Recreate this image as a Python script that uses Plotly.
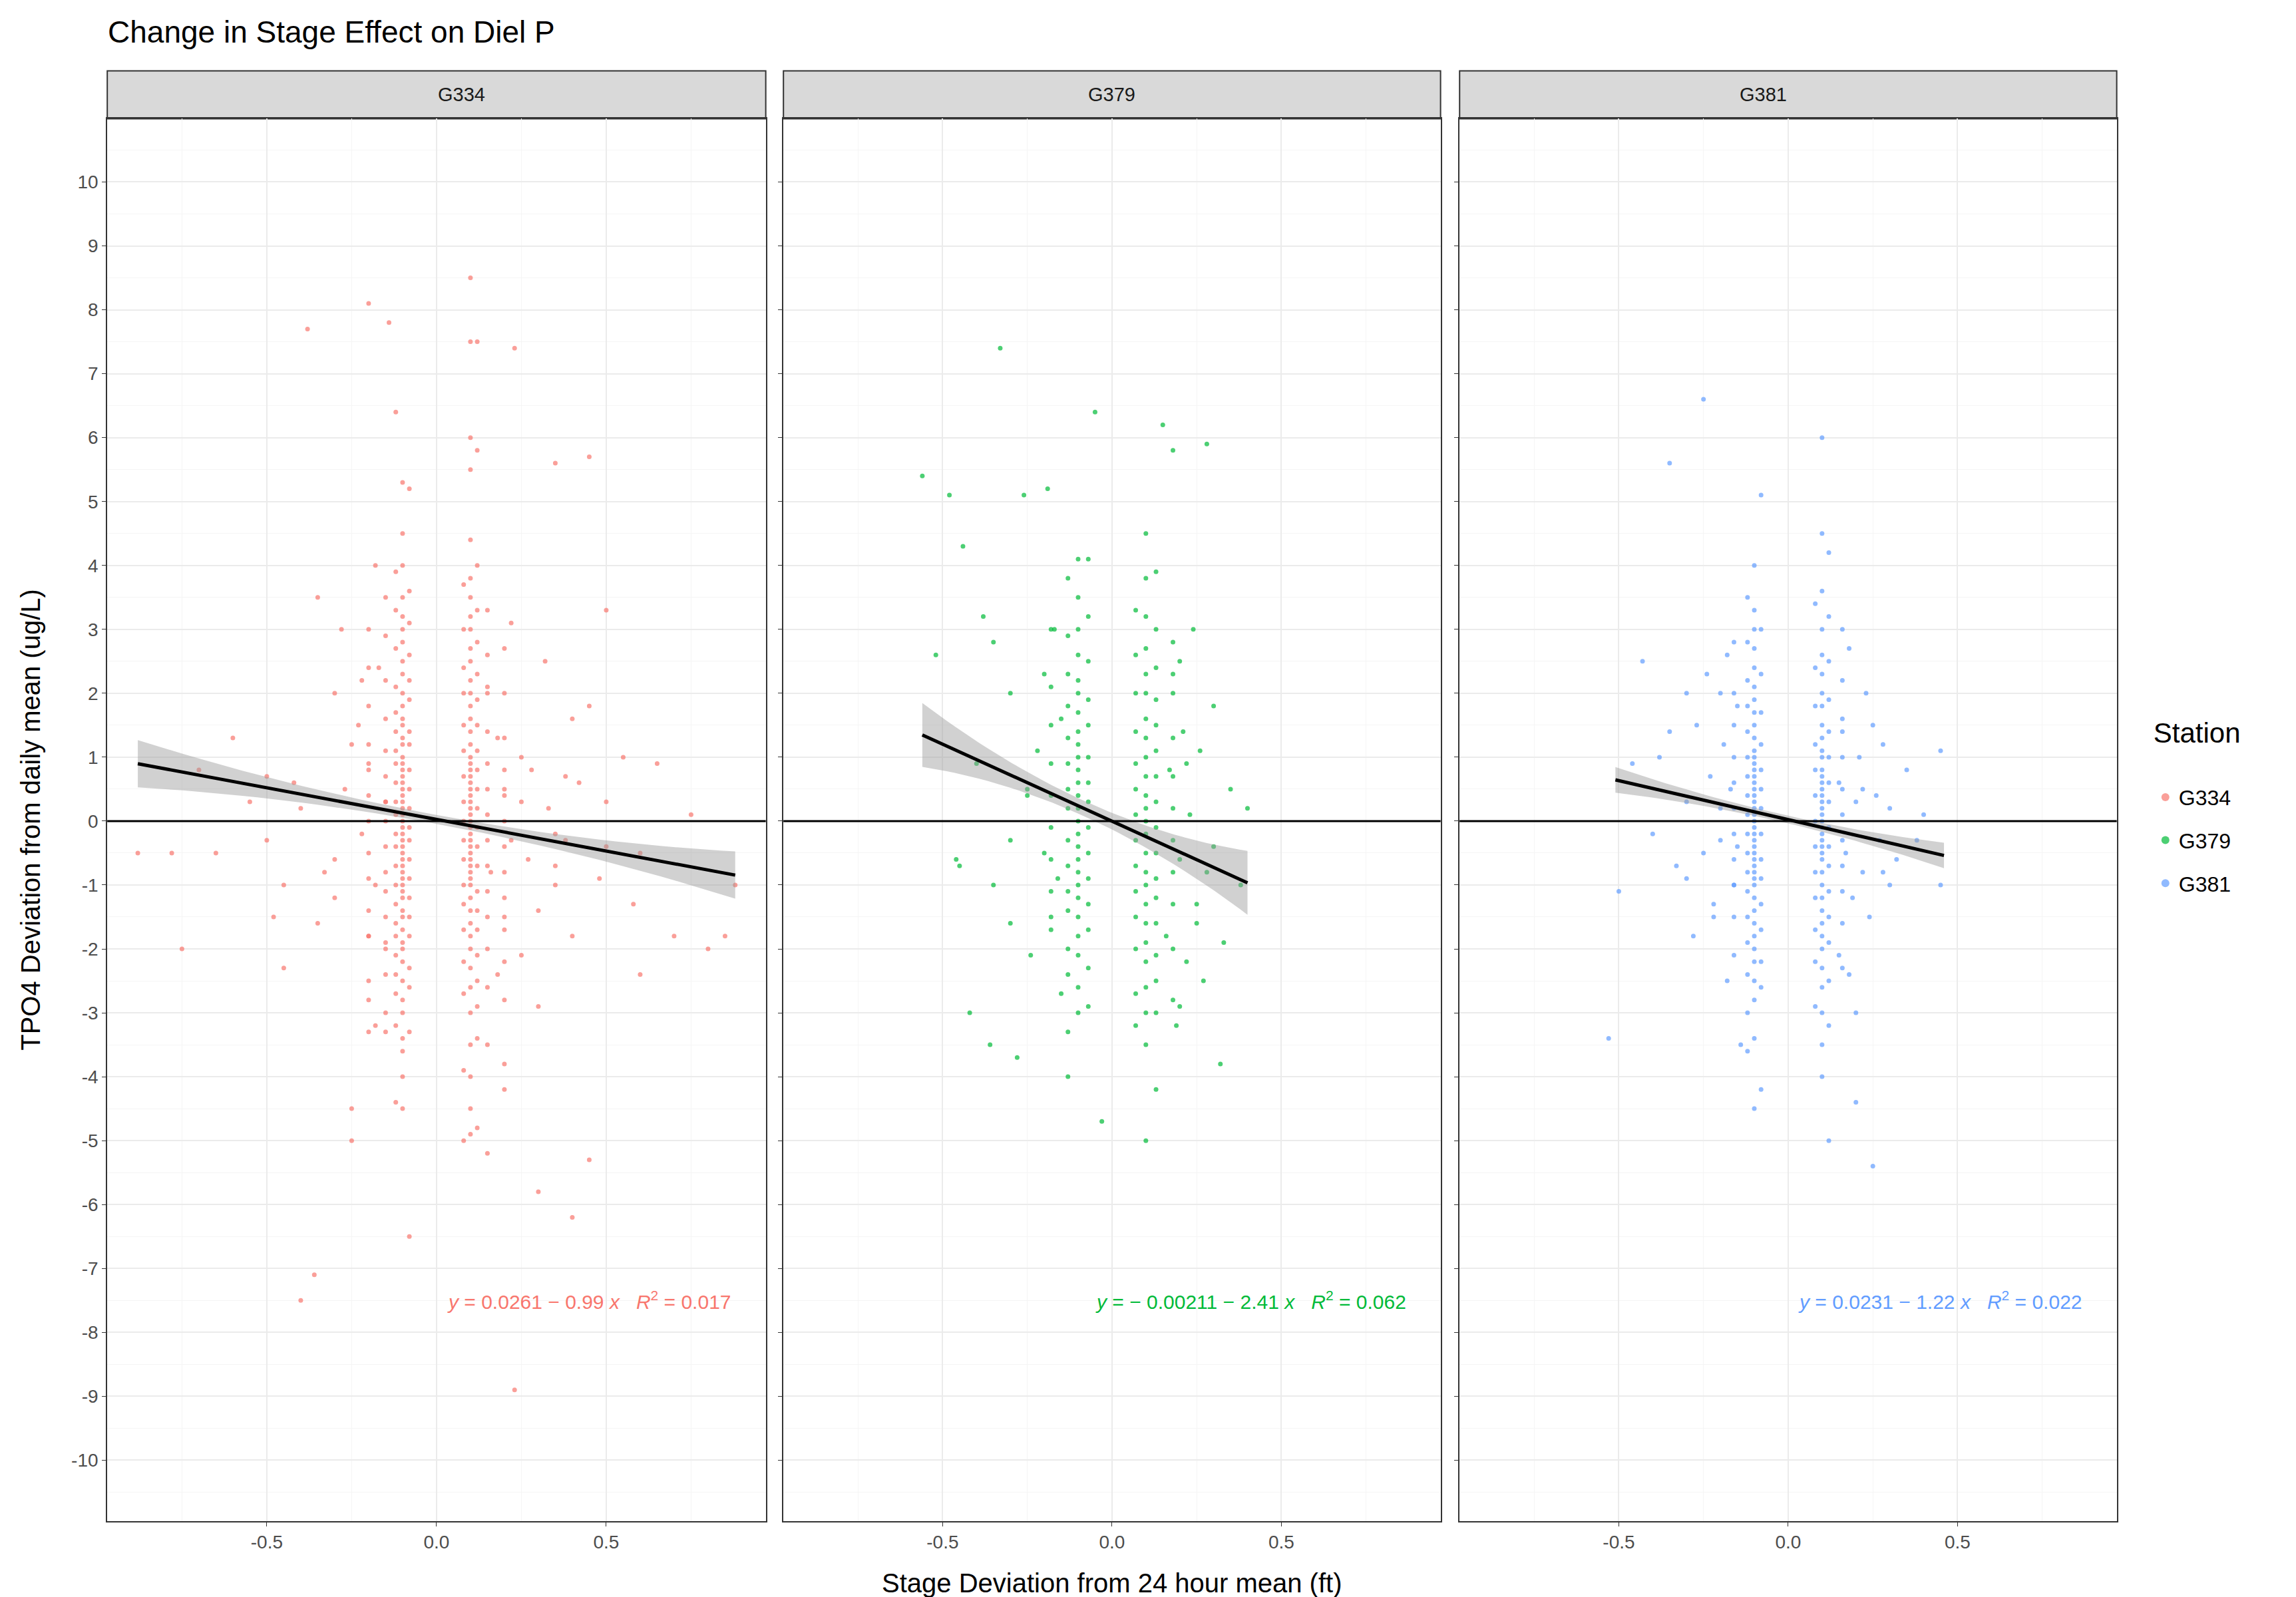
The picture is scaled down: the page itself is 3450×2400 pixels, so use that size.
import plotly.graph_objects as go

stations = ["G334", "G379", "G381"]
colors = {"G334": "#F8766D", "G379": "#00BA38", "G381": "#619CFF"}

cols = {
"G334": [
 (-0.10, [5.3,4.5,4.0,3.5,3.2,3.0,2.8,2.5,2.3,2.0,1.8,1.6,1.5,1.3,1.2,1.0,0.9,0.8,0.7,0.6,0.5,0.4,0.3,0.2,0.1,0,-0.1,-0.2,-0.3,-0.4,-0.5,-0.6,-0.7,-0.8,-0.9,-1.0,-1.1,-1.2,-1.4,-1.5,-1.7,-1.9,-2.0,-2.2,-2.5,-2.8,-3.0,-3.4,-3.6,-4.0,-4.5]),
 (-0.12, [6.4,3.9,3.3,2.7,2.1,1.7,1.4,1.1,0.9,0.6,0.3,0.1,-0.2,-0.4,-0.7,-1.0,-1.3,-1.6,-1.8,-2.1,-2.4,-2.7,-3.2,-4.4]),
 (-0.08, [5.2,3.6,3.1,2.6,2.2,1.9,1.4,1.2,0.8,0.5,0.2,-0.1,-0.3,-0.6,-0.9,-1.2,-1.5,-1.8,-2.3,-2.6,-3.3,-6.5]),
 (-0.15, [3.5,2.9,2.2,1.6,1.1,0.7,0.3,0,-0.4,-0.8,-1.1,-1.5,-1.9,-2.4,-3.0]),
 (-0.20, [3.0,2.4,1.8,1.2,0.8,0.4,0,-0.5,-0.9,-1.4,-1.8,-2.5,-3.3]),
 (0.10, [8.5,7.5,6.0,5.5,4.4,3.8,3.5,3.2,3.0,2.7,2.5,2.2,2.0,1.8,1.6,1.4,1.2,1.0,0.9,0.8,0.7,0.6,0.5,0.4,0.3,0.2,0.1,0,-0.1,-0.2,-0.3,-0.4,-0.5,-0.6,-0.7,-0.8,-0.9,-1.0,-1.2,-1.4,-1.6,-1.8,-2.0,-2.3,-2.6,-3.0,-3.5,-4.0,-4.5,-4.9]),
 (0.12, [7.5,5.8,4.0,3.3,2.8,2.3,1.9,1.5,1.1,0.8,0.5,0.2,-0.1,-0.4,-0.7,-1.1,-1.4,-1.7,-2.1,-2.5,-2.9,-3.4,-4.8]),
 (0.08, [3.7,3.0,2.4,2.0,1.5,1.1,0.7,0.3,0,-0.3,-0.6,-1.0,-1.3,-1.7,-2.2,-2.7,-3.9,-5.0]),
 (0.15, [3.3,2.6,2.0,1.4,0.9,0.5,0.1,-0.3,-0.7,-1.1,-1.5,-2.0,-2.6,-3.5]),
 (0.20, [2.7,2.0,1.3,0.8,0.4,0,-0.4,-0.8,-1.2,-1.7,-2.2,-2.8]),
],
"G379": [
 (-0.10, [4.1,3.5,3.0,2.6,2.2,2.0,1.7,1.4,1.2,1.0,0.8,0.6,0.4,0.2,0,-0.2,-0.4,-0.6,-0.8,-1.0,-1.2,-1.5,-1.8,-2.1,-2.6,-3.0]),
 (-0.13, [3.8,2.9,2.3,1.8,1.3,0.9,0.5,0.2,-0.3,-0.7,-1.1,-1.4,-2.0,-2.4,-3.3,-4.0]),
 (-0.07, [4.1,3.2,2.5,1.9,1.5,1.0,0.6,0.3,-0.1,-0.5,-0.9,-1.3,-1.7,-2.3,-2.9]),
 (-0.18, [3.0,2.1,1.5,0.9,0.4,-0.1,-0.6,-1.1,-1.7]),
 (0.10, [4.5,3.8,3.2,2.7,2.3,2.0,1.6,1.3,1.0,0.7,0.4,0.2,0,-0.2,-0.5,-0.8,-1.0,-1.3,-1.6,-1.9,-2.2,-2.6,-3.0,-3.5,-5.0]),
 (0.13, [3.9,3.0,2.4,1.9,1.5,1.1,0.7,0.3,-0.1,-0.5,-0.9,-1.2,-1.6,-2.1,-2.5,-3.0,-4.2]),
 (0.07, [3.3,2.6,2.0,1.4,0.9,0.5,0.1,-0.3,-0.7,-1.1,-1.5,-2.0,-2.7,-3.2]),
 (0.18, [2.8,2.0,1.3,0.7,0.2,-0.3,-0.8,-1.3,-2.0,-2.8]),
],
"G381": [
 (-0.10, [4.0,3.3,3.0,2.7,2.4,2.1,1.9,1.7,1.5,1.3,1.1,1.0,0.9,0.8,0.7,0.6,0.5,0.4,0.3,0.2,0.1,0,-0.1,-0.2,-0.3,-0.4,-0.5,-0.6,-0.7,-0.8,-0.9,-1.0,-1.2,-1.4,-1.6,-1.8,-2.0,-2.2,-2.5,-2.8,-3.4,-4.5]),
 (-0.12, [3.5,2.8,2.2,1.8,1.4,1.0,0.7,0.4,0.1,-0.2,-0.5,-0.8,-1.1,-1.5,-1.9,-2.4,-3.0,-3.6]),
 (-0.08, [5.1,3.0,2.3,1.7,1.2,0.8,0.5,0.2,-0.2,-0.6,-0.9,-1.3,-1.7,-2.2,-2.6,-4.2]),
 (-0.16, [2.8,2.0,1.5,1.0,0.6,0.2,-0.2,-0.6,-1.0,-1.5,-2.1]),
 (0.10, [6.0,4.5,3.6,3.0,2.6,2.3,2.0,1.8,1.5,1.3,1.1,1.0,0.8,0.7,0.6,0.5,0.4,0.3,0.2,0.1,0,-0.1,-0.2,-0.3,-0.4,-0.5,-0.6,-0.8,-1.0,-1.2,-1.4,-1.6,-1.8,-2.0,-2.3,-2.6,-3.0,-3.5,-4.0]),
 (0.12, [4.2,3.2,2.5,1.9,1.4,1.0,0.6,0.3,-0.1,-0.4,-0.7,-1.1,-1.5,-1.9,-2.5,-3.2,-5.0]),
 (0.08, [3.4,2.4,1.8,1.2,0.8,0.4,0,-0.4,-0.8,-1.2,-1.7,-2.2,-2.9]),
 (0.16, [3.0,2.2,1.6,1.0,0.5,0.1,-0.3,-0.7,-1.1,-1.6,-2.3]),
],
}

scat_x = {
"G334": [-0.88,-0.78,-0.75,-0.7,-0.65,-0.6,-0.55,-0.5,-0.48,-0.45,-0.42,-0.4,-0.38,-0.36,-0.35,-0.33,-0.3,-0.3,-0.28,-0.27,-0.25,-0.25,-0.23,-0.22,-0.2,-0.2,-0.2,-0.18,-0.18,-0.17,-0.15,-0.15,-0.15,-0.14,-0.3,-0.25,-0.35,-0.4,-0.45,-0.5,-0.2,-0.22,-0.18,
          0.15,0.15,0.16,0.18,0.18,0.2,0.2,0.2,0.22,0.22,0.23,0.25,0.25,0.27,0.28,0.3,0.3,0.32,0.33,0.35,0.35,0.38,0.4,0.4,0.42,0.45,0.45,0.48,0.5,0.5,0.55,0.58,0.6,0.65,0.7,0.75,0.8,0.85,0.88,0.25,0.3,0.35,0.2,0.4,0.23,0.38,0.45,0.35,0.6,0.5],
"G379": [-0.56,-0.52,-0.48,-0.46,-0.44,-0.42,-0.4,-0.38,-0.36,-0.35,-0.33,-0.3,-0.3,-0.28,-0.26,-0.25,-0.24,-0.22,-0.2,-0.2,-0.19,-0.18,-0.17,-0.16,-0.15,-0.15,-0.3,-0.35,-0.45,-0.25,-0.05,-0.03,
          0.15,0.16,0.17,0.18,0.19,0.2,0.2,0.21,0.22,0.23,0.24,0.25,0.26,0.27,0.28,0.3,0.3,0.32,0.35,0.38,0.4,0.2,0.25,0.18,0.22,0.28,0.33],
"G381": [-0.53,-0.5,-0.46,-0.43,-0.4,-0.38,-0.35,-0.33,-0.3,-0.3,-0.28,-0.27,-0.25,-0.24,-0.23,-0.22,-0.2,-0.2,-0.19,-0.18,-0.17,-0.16,-0.15,-0.15,-0.14,-0.3,-0.25,-0.2,-0.35,-0.22,-0.18,
          0.15,0.15,0.16,0.17,0.18,0.19,0.2,0.2,0.21,0.22,0.23,0.24,0.25,0.26,0.27,0.28,0.3,0.3,0.32,0.35,0.38,0.4,0.45,0.45,0.2,0.25,0.18,0.22,0.28],
}
scat_y = {
"G334": [-0.5,-0.5,-2.0,0.8,-0.5,1.3,0.3,-0.3,-1.5,-2.3,0.6,-7.5,7.7,-7.1,3.5,-0.8,2.0,-1.2,3.0,0.5,-4.5,-5.0,1.5,-0.2,-2.8,0.9,8.1,-1.0,4.0,2.4,-2.0,0.3,-3.3,7.8,-0.6,1.2,-1.6,0.2,-1.0,0.7,-1.8,2.2,-3.2,
          -5.2,2.1,-0.8,1.3,-2.4,-4.2,0.5,-1.5,3.1,-0.3,-8.9,-2.1,1.0,-0.6,0.8,-5.8,-1.4,2.5,0.2,-1.0,5.6,-0.3,-6.2,-1.8,0.6,-5.3,5.7,-0.9,3.3,-0.4,1.0,-1.3,-0.5,0.9,-1.8,0.1,-2.0,-1.8,-1.0,0.3,-2.9,-0.2,-3.8,1.6,7.4,0.7,1.8,-0.7,-2.4,0.3],
"G379": [5.4,2.6,5.1,-0.6,4.3,-3.0,0.9,3.2,-3.5,-1.0,7.4,2.0,-0.3,-3.7,5.1,0.5,-2.1,1.1,-0.5,2.3,5.2,-1.5,3.0,-0.9,1.6,-2.7,-1.6,2.8,-0.7,0.4,6.4,-4.7,
          6.2,-1.8,0.8,5.8,-3.2,2.5,-0.6,1.4,-2.2,0.1,3.0,-1.3,1.1,-2.5,5.9,-0.4,1.8,-3.8,0.5,-1.0,0.2,-2.9,-1.6,2.3,0.9,-0.8,-1.9],
"G381": [-3.4,-1.1,0.9,2.5,-0.2,1.0,5.6,-0.7,2.0,0.3,-1.8,1.5,-0.5,2.3,0.7,-1.3,2.0,-0.3,1.2,-2.5,0.5,-1.0,1.8,-0.4,-3.5,-0.9,6.6,0.2,1.4,-1.5,2.6,
          -2.1,0.6,1.4,-0.5,2.7,-1.2,0.3,-3.0,1.0,-0.8,2.0,-1.5,-5.4,0.4,-0.3,1.2,-1.0,0.2,-0.6,0.8,-0.3,0.1,1.1,-1.0,-4.4,1.5,-2.4,0.5,-0.8],
}

fits = {
"G334": (0.0261, -0.99, -0.88, 0.88, 0.37, 0.07),
"G379": (-0.00211, -2.41, -0.56, 0.40, 0.50, 0.12),
"G381": (0.0231, -1.22, -0.51, 0.46, 0.20, 0.06),
}
labels = {
"G334": "<i>y</i> = 0.0261 − 0.99 <i>x</i>   <i>R</i><sup>2</sup> = 0.017",
"G379": "<i>y</i> = − 0.00211 − 2.41 <i>x</i>   <i>R</i><sup>2</sup> = 0.062",
"G381": "<i>y</i> = 0.0231 − 1.22 <i>x</i>   <i>R</i><sup>2</sup> = 0.022",
}

xticks = [-0.5, 0.0, 0.5]
xticklabels = ["-0.5", "0.0", "0.5"]
yticks = list(range(-10, 11))
yticklabels = [str(v) for v in yticks]

domains = [(0.0444, 0.3312), (0.3389, 0.6251), (0.6334, 0.9196)]
fig = go.Figure()
F = "Liberation Sans, Arial, sans-serif"

for i, s in enumerate(stations):
    ax = "" if i == 0 else str(i + 1)
    xs, ys = [], []
    for cx, cy in cols[s]:
        xs += [cx] * len(cy); ys += cy
    xs += scat_x[s]; ys += scat_y[s]
    fig.add_trace(go.Scatter(x=xs, y=ys, mode="markers", name=s,
        marker=dict(color=colors[s], size=7, opacity=0.7),
        xaxis="x" + ax, yaxis="y" + ax, legendgroup=s))
    b, m, x0, x1, wend, wmid = fits[s]
    n = 40
    xx = [x0 + (x1 - x0) * k / n for k in range(n + 1)]
    xc = (x0 + x1) / 2; hw = (x1 - x0) / 2
    yy = [b + m * v for v in xx]
    w = [wmid + (wend - wmid) * ((v - xc) / hw) ** 2 for v in xx]
    fig.add_trace(go.Scatter(x=xx + xx[::-1], y=[a + c for a, c in zip(yy, w)] + [a - c for a, c in zip(yy, w)][::-1],
        fill="toself", fillcolor="rgba(153,153,153,0.45)", line=dict(width=0),
        showlegend=False, hoverinfo="skip", xaxis="x" + ax, yaxis="y" + ax))
    fig.add_trace(go.Scatter(x=xx, y=yy, mode="lines", line=dict(color="black", width=5),
        showlegend=False, xaxis="x" + ax, yaxis="y" + ax))
    common = dict(showline=True, mirror=True, linecolor="#333333", linewidth=2,
        gridcolor="#EBEBEB", gridwidth=2, zeroline=False, ticks="outside",
        ticklen=6, tickcolor="#333333", tickfont=dict(size=28, color="#4D4D4D", family=F),
        minor=dict(showgrid=True, gridcolor="#F5F5F5", gridwidth=1))
    fig.layout["xaxis" + ax] = dict(domain=domains[i], range=[-0.97, 0.97], tickvals=xticks,
        ticktext=xticklabels, anchor="y" + ax, minor_dtick=0.25, **common)
    fig.layout["yaxis" + ax] = dict(domain=[0.051, 0.929], range=[-10.95, 10.99], tickvals=yticks,
        ticktext=yticklabels, anchor="x" + ax, showticklabels=(i == 0), minor_dtick=0.5, **common)
    fig.add_shape(type="line", xref="x" + ax + " domain", yref="y" + ax, x0=0, x1=1, y0=0, y1=0,
        line=dict(color="black", width=3))
    fig.add_shape(type="rect", xref="paper", yref="paper", x0=domains[i][0], x1=domains[i][1],
        y0=0.929, y1=0.959, fillcolor="#D9D9D9", line=dict(color="#333333", width=2), layer="below")
    fig.add_annotation(xref="paper", yref="paper", x=(domains[i][0] + domains[i][1]) / 2, y=0.944,
        yanchor="middle", text=s, showarrow=False, font=dict(size=29, color="#1A1A1A", family=F))
    fig.add_annotation(xref="x" + ax + " domain", yref="y" + ax, x=0.95, y=-7.5, xanchor="right",
        text=labels[s], showarrow=False, font=dict(size=30, color=colors[s], family=F))

fig.add_annotation(xref="paper", yref="paper", x=0.044, y=0.995, xanchor="left", yanchor="top",
    text="Change in Stage Effect on Diel P", showarrow=False, font=dict(size=46, color="black", family=F))
fig.add_annotation(xref="paper", yref="paper", x=0.482, y=0.002, yanchor="bottom",
    text="Stage Deviation from 24 hour mean (ft)", showarrow=False, font=dict(size=40, color="black", family=F))
fig.add_annotation(xref="paper", yref="paper", x=0.004, y=0.49, textangle=-90, xanchor="left",
    text="TPO4 Deviation from daily mean (ug/L)", showarrow=False, font=dict(size=40, color="black", family=F))

fig.update_layout(width=3450, height=2400, plot_bgcolor="white", paper_bgcolor="white",
    margin=dict(l=0, r=0, t=0, b=0), font=dict(family=F, color="black"),
    legend=dict(x=0.935, y=0.5, xanchor="left", yanchor="middle", tracegroupgap=20,
        title=dict(text="Station<br>", font=dict(size=42, color="black")),
        font=dict(size=32, color="black"), itemsizing="constant"))
fig.write_html("out.html")
